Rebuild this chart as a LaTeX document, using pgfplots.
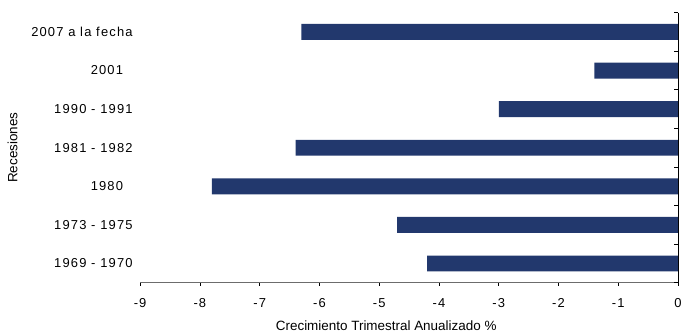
\documentclass[border=0pt]{standalone}
\usepackage{fontspec}
\setmainfont{Liberation Sans}
\usepackage{pgfplots}
\pgfplotsset{compat=1.18}
\definecolor{barblue}{HTML}{22386D}
\begin{document}
\begin{tikzpicture}[x=1pt,y=1pt]
\begin{axis}[
  at={(0,0)}, anchor=south west,
  scale only axis, width=540.3pt, height=271.3pt,
  xmin=-9, xmax=0, ymin=-0.5, ymax=6.5,
  xtick={-9,...,0},
  ytick={0,...,6},
  yticklabels={1969 - 1970,1973 - 1975,1980\ \ \ ,1981 - 1982,1990 - 1991,2001\ \ \ ,2007 a la fecha},
  axis x line*=bottom,
  axis y line*=left,
  y axis line style={draw=none},
  x axis line style={draw=gray!85!black, line width=1.4pt},
  ytick style={draw=none},
  xtick style={draw=black, line width=0.6pt},
  tick align=outside,
  major tick length=3pt,
  /pgf/number format/assume math mode=true,
  font=\fontsize{13.5}{15}\selectfont,
  tick label style={font=\fontsize{13}{15}\selectfont\addfontfeature{LetterSpace=9}},
  yticklabel style={xshift=-1pt},
  xticklabel style={yshift=-9pt},
  xlabel={Crecimiento Trimestral Anualizado \%},
  ylabel={Recesiones},
  xlabel style={yshift=-7pt, xshift=-23pt},
  ylabel style={yshift=7pt},
  clip=false,
]
\addplot[xbar, bar width=16pt, fill=barblue, draw=none] coordinates {
  (-4.2,0) (-4.7,1) (-7.8,2) (-6.4,3) (-3.0,4) (-1.4,5) (-6.3,6)
};
\end{axis}
\begin{axis}[
  at={(0,0)}, anchor=south west,
  scale only axis, width=540.3pt, height=271.3pt,
  xmin=-9, xmax=0, ymin=-0.5, ymax=6.5,
  axis x line=none,
  axis y line*=right,
  ytick={-0.5,0.5,...,6.5},
  yticklabels={},
  xtick=\empty,
  tick align=inside,
  major tick length=4pt,
  y axis line style={draw=black, line width=0.8pt},
  ytick style={draw=black, line width=0.8pt},
]
\end{axis}
\useasboundingbox (-140.7,-47) rectangle (544.3,284);
\end{tikzpicture}
\end{document}
